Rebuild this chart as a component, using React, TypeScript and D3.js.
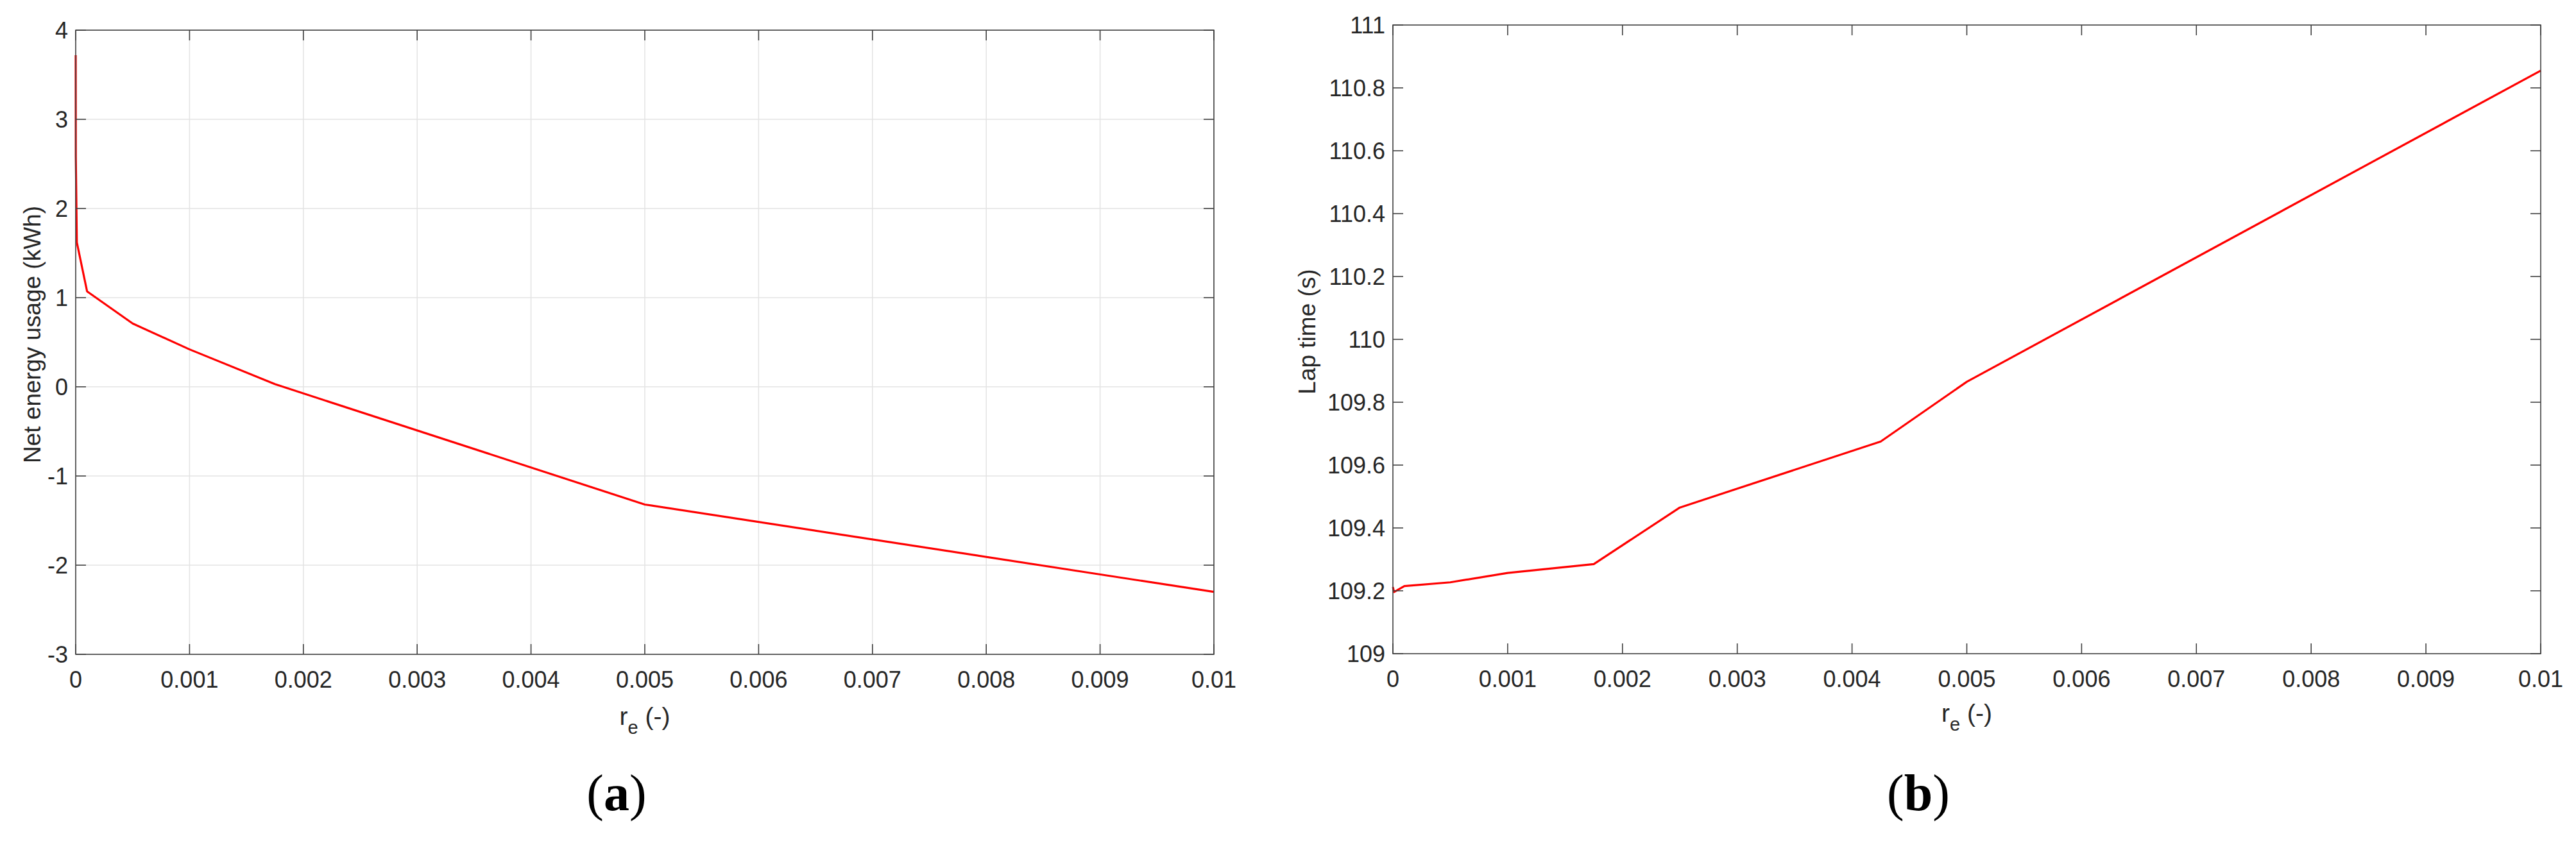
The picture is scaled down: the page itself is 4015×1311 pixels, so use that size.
import React from "react";
import * as d3 from "d3";

const xTicks = [0, 0.001, 0.002, 0.003, 0.004, 0.005, 0.006, 0.007, 0.008, 0.009, 0.01];
const xTickLabels = ["0", "0.001", "0.002", "0.003", "0.004", "0.005", "0.006", "0.007", "0.008", "0.009", "0.01"];

const energyTicks = [-3, -2, -1, 0, 1, 2, 3, 4];
const energyTickLabels = ["-3", "-2", "-1", "0", "1", "2", "3", "4"];
const energyX = [0, 0.000001, 0.00001, 0.0001, 0.0005, 0.001, 0.00175, 0.005, 0.01];
const energyY = [3.72, 2.58, 1.62, 1.07, 0.71, 0.42, 0.03, -1.32, -2.3];

const lapTicks = [109, 109.2, 109.4, 109.6, 109.8, 110, 110.2, 110.4, 110.6, 110.8, 111];
const lapTickLabels = ["109", "109.2", "109.4", "109.6", "109.8", "110", "110.2", "110.4", "110.6", "110.8", "111"];
const lapX = [0, 0.00001, 0.0001, 0.0005, 0.001, 0.00175, 0.0025, 0.00425, 0.005, 0.01];
const lapY = [109.212, 109.196, 109.215, 109.227, 109.257, 109.285, 109.465, 109.675, 109.865, 110.855];

const FONT = "'Liberation Sans', Arial, Helvetica, sans-serif";
const SERIF = "'Liberation Serif', 'Times New Roman', serif";
const AX = "#404040";
const TXT = "#262626";

type PanelProps = {
  x0: number; x1: number; y0: number; y1: number;
  xs: number[]; ys: number[];
  yDomain: [number, number]; yTicks: number[]; yTickLabels: string[];
  grid: boolean; ylabel: string; ylabelX: number;
  xlabelY: number; panelLabel: string; panelLabelX: number;
};

function Panel(p: PanelProps) {
  const x = d3.scaleLinear().domain([0, 0.01]).range([p.x0, p.x1]);
  const y = d3.scaleLinear().domain(p.yDomain).range([p.y1, p.y0]);
  const pts = p.xs.map((v, i) => [v, p.ys[i]] as [number, number]);
  const line = d3.line<[number, number]>().x(d => x(d[0])).y(d => y(d[1]));
  const tl = 16;
  const cx = (p.x0 + p.x1) / 2;
  const cy = (p.y0 + p.y1) / 2 - 12;
  return (
    <g>
      {p.grid && xTicks.map((t, i) => (
        <line key={"gx" + i} x1={x(t)} x2={x(t)} y1={p.y0} y2={p.y1} stroke="#e3e3e3" strokeWidth={1.5} />
      ))}
      {p.grid && p.yTicks.map((t, i) => (
        <line key={"gy" + i} x1={p.x0} x2={p.x1} y1={y(t)} y2={y(t)} stroke="#e3e3e3" strokeWidth={1.5} />
      ))}
      <path d={line(pts) || ""} fill="none" stroke="#ff0000" strokeWidth={3.2} strokeLinejoin="round" />
      <rect x={p.x0} y={p.y0} width={p.x1 - p.x0} height={p.y1 - p.y0} fill="none" stroke={AX} strokeWidth={1.6} />
      {xTicks.map((t, i) => (
        <g key={"xt" + i}>
          <line x1={x(t)} x2={x(t)} y1={p.y1} y2={p.y1 - tl} stroke={AX} strokeWidth={1.6} />
          <line x1={x(t)} x2={x(t)} y1={p.y0} y2={p.y0 + tl} stroke={AX} strokeWidth={1.6} />
          <text x={x(t)} y={p.y1 + 52} textAnchor="middle" fontFamily={FONT} fontSize={36} fill={TXT}>{xTickLabels[i]}</text>
        </g>
      ))}
      {p.yTicks.map((t, i) => (
        <g key={"yt" + i}>
          <line x1={p.x0} x2={p.x0 + tl} y1={y(t)} y2={y(t)} stroke={AX} strokeWidth={1.6} />
          <line x1={p.x1} x2={p.x1 - tl} y1={y(t)} y2={y(t)} stroke={AX} strokeWidth={1.6} />
          <text x={p.x0 - 12} y={y(t) + 13} textAnchor="end" fontFamily={FONT} fontSize={36} fill={TXT}>{p.yTickLabels[i]}</text>
        </g>
      ))}
      <text transform={`translate(${p.ylabelX},${cy}) rotate(-90)`} textAnchor="middle" fontFamily={FONT} fontSize={37} fill={TXT} dominantBaseline="central">{p.ylabel}</text>
      <text x={cx} y={p.xlabelY} textAnchor="middle" fontFamily={FONT} fontSize={39} fill={TXT}>
        r<tspan fontSize={29} dy={14}>e</tspan><tspan dy={-14}> (-)</tspan>
      </text>
      <text x={p.panelLabelX} y={1263} textAnchor="middle" fontFamily={SERIF} fontSize={80} fill="#000">
        (<tspan fontWeight="bold">{p.panelLabel}</tspan>)
      </text>
    </g>
  );
}

export default function App() {
  React.useEffect(() => { document.body.style.margin = "0"; }, []);
  return (
    <svg width={4015} height={1311} style={{ display: "block", background: "#fff" }}>
      <rect x={0} y={0} width={4015} height={1311} fill="#fff" />
      <Panel x0={118} x1={1892} y0={47} y1={1020} xs={energyX} ys={energyY}
        yDomain={[-3, 4]} yTicks={energyTicks} yTickLabels={energyTickLabels}
        grid={true} ylabel="Net energy usage (kWh)" ylabelX={50} xlabelY={1130}
        panelLabel="a" panelLabelX={961} />
      <Panel x0={2171} x1={3960} y0={39} y1={1019} xs={lapX} ys={lapY}
        yDomain={[109, 111]} yTicks={lapTicks} yTickLabels={lapTickLabels}
        grid={false} ylabel="Lap time (s)" ylabelX={2037} xlabelY={1125}
        panelLabel="b" panelLabelX={2990} />
    </svg>
  );
}
